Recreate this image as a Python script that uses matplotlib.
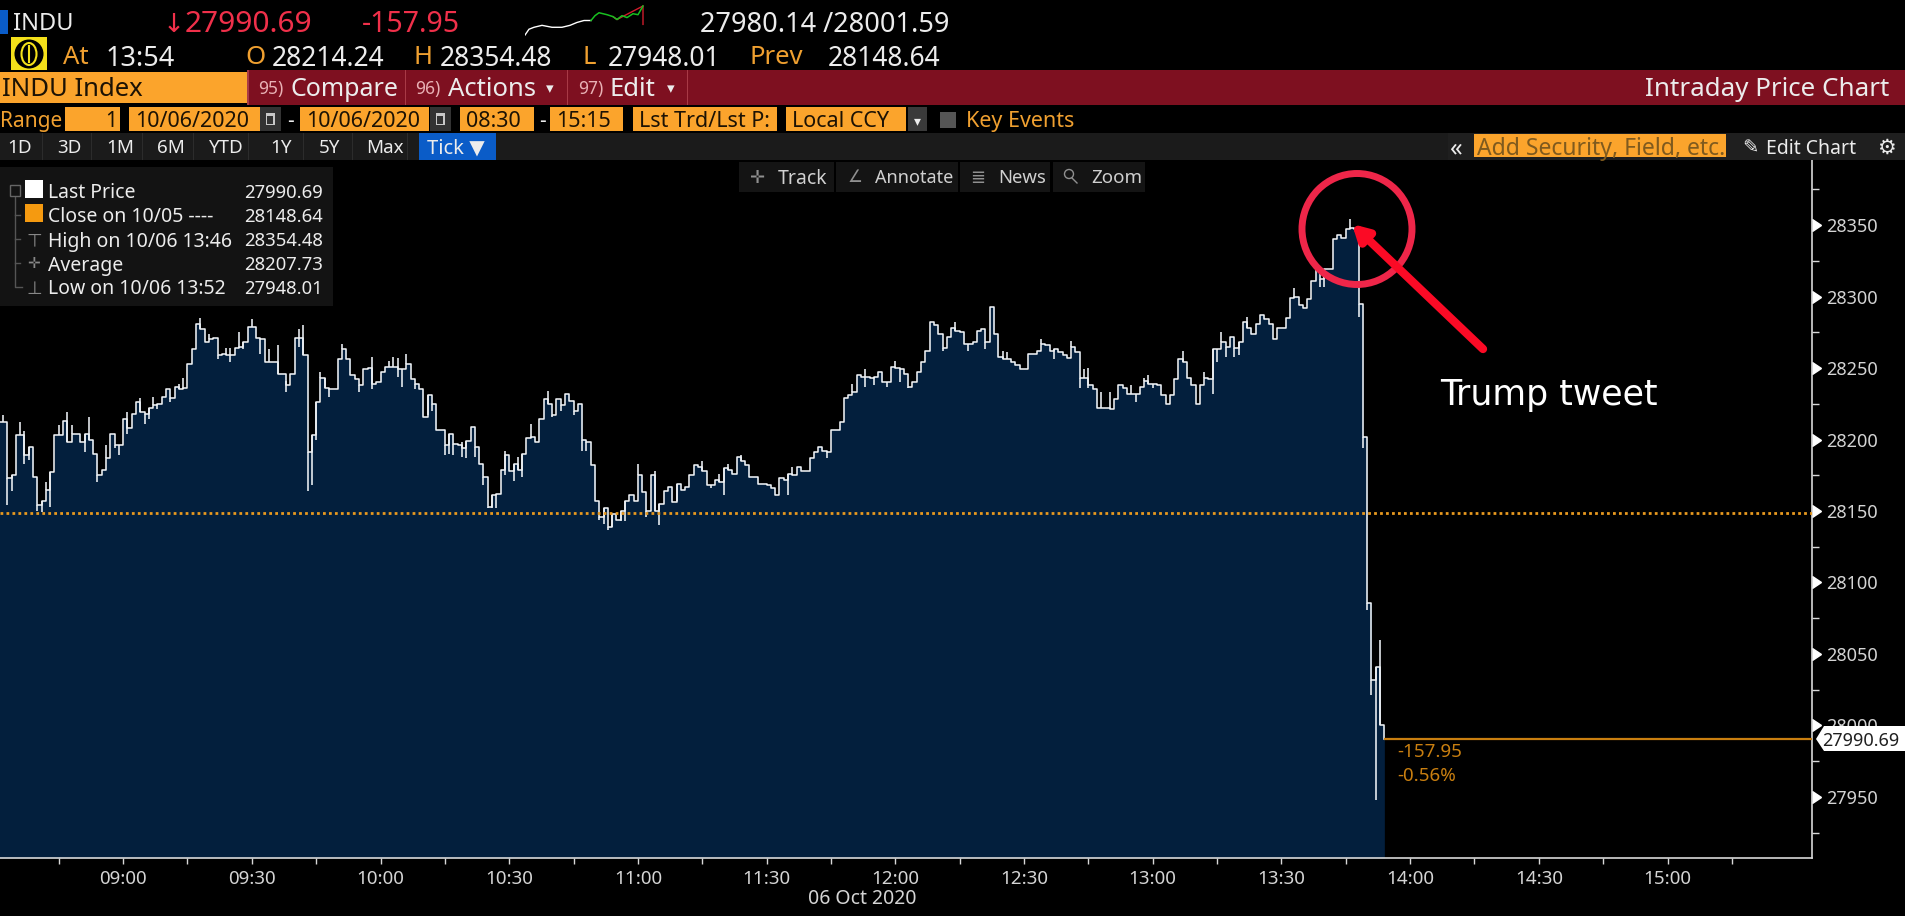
import numpy as np
import matplotlib
matplotlib.use("Agg")
import matplotlib.pyplot as plt
import matplotlib.markers as mmarkers
from matplotlib.patches import Rectangle, Ellipse, Polygon
from matplotlib.ticker import FixedLocator, FixedFormatter

plt.rcParams['font.family'] = ['Noto Sans', 'DejaVu Sans']

# one-minute bars, first one is 08:32
first_minute = 512
price_before_first = 28212
closes = [
    28212, 28173, 28175, 28203, 28203, 28189, 28195, 28174, 28154, 28157,
    28165, 28177, 28203, 28203, 28213, 28198, 28204, 28204, 28198, 28204,
    28200, 28190, 28175, 28179, 28187, 28204, 28196, 28196, 28214, 28208,
    28218, 28226, 28219, 28218, 28222, 28224, 28225, 28230, 28235, 28229,
    28237, 28235, 28236, 28253, 28263, 28281, 28277, 28268, 28270, 28271,
    28259, 28260, 28259, 28259, 28264, 28265, 28268, 28279, 28279, 28271,
    28270, 28254, 28254, 28254, 28246, 28246, 28238, 28246, 28271, 28271,
    28259, 28191, 28203, 28226, 28243, 28236, 28235, 28235, 28256, 28263,
    28256, 28245, 28242, 28238, 28249, 28250, 28239, 28240, 28247, 28251,
    28251, 28251, 28249, 28249, 28253, 28242, 28239, 28235, 28216, 28231,
    28225, 28207, 28207, 28196, 28204, 28197, 28196, 28194, 28199, 28209,
    28195, 28183, 28174, 28153, 28161, 28162, 28179, 28189, 28178, 28183,
    28179, 28190, 28201, 28202, 28198, 28214, 28228, 28225, 28217, 28228,
    28224, 28232, 28227, 28220, 28225, 28200, 28198, 28182, 28157, 28146,
    28152, 28139, 28148, 28144, 28150, 28157, 28161, 28157, 28175, 28163,
    28150, 28175, 28150, 28155, 28164, 28167, 28156, 28169, 28165, 28167,
    28175, 28182, 28181, 28178, 28168, 28168, 28172, 28170, 28180, 28179,
    28176, 28188, 28185, 28182, 28174, 28174, 28169, 28169, 28168, 28166,
    28161, 28173, 28172, 28176, 28175, 28181, 28178, 28178, 28187, 28191,
    28195, 28192, 28191, 28207, 28207, 28212, 28229, 28231, 28233, 28245,
    28244, 28244, 28243, 28244, 28247, 28240, 28240, 28251, 28250, 28249,
    28246, 28237, 28240, 28247, 28254, 28262, 28282, 28280, 28274, 28264,
    28272, 28278, 28276, 28275, 28267, 28267, 28268, 28276, 28277, 28268,
    28293, 28274, 28258, 28256, 28256, 28254, 28252, 28249, 28249, 28260,
    28260, 28262, 28267, 28266, 28262, 28263, 28261, 28259, 28257, 28265,
    28261, 28243, 28243, 28238, 28235, 28222, 28222, 28222, 28221, 28228,
    28238, 28236, 28232, 28232, 28232, 28237, 28241, 28239, 28239, 28238,
    28231, 28225, 28231, 28242, 28256, 28254, 28243, 28238, 28225, 28238,
    28243, 28242, 28263, 28263, 28268, 28265, 28272, 28264, 28268, 28282,
    28278, 28274, 28281, 28287, 28284, 28281, 28270, 28278, 28278, 28285,
    28299, 28300, 28294, 28292, 28298, 28311, 28319, 28312, 28319, 28319,
    28340, 28343, 28341, 28347, 28348, 28347, 28295, 28202, 28086, 28032,
    28041, 28000, 27990.69,
]

# bars whose high or low sticks out of the step line
high_bars = [0, 4, 5, 10, 13, 15, 16, 20, 24, 29, 32, 35, 41, 42, 46, 48, 52, 53, 55, 58,
             62, 64, 66, 69, 70, 74, 75, 79, 86, 90, 91, 92, 94, 107, 117, 120, 123, 127,
             148, 152, 163, 167, 169, 172, 184, 198, 201, 208, 222, 233, 234, 242, 249,
             252, 253, 256, 258, 263, 266, 267, 275, 280, 284, 290, 301, 314, 321]
high_vals = [28217, 28212, 28206, 28170, 28210, 28219, 28210, 28216, 28196, 28219, 28229,
             28230, 28239, 28243, 28285, 28274, 28264, 28264, 28275, 28284, 28263, 28266,
             28241, 28277, 28280, 28247, 28243, 28267, 28258, 28255, 28258, 28257, 28260,
             28198, 28192, 28188, 28211, 28234, 28183, 28178, 28185, 28176, 28183, 28189,
             28181, 28239, 28249, 28255, 28282, 28262, 28261, 28270, 28269, 28249, 28250,
             28233, 28233, 28238, 28243, 28245, 28262, 28247, 28275, 28286, 28306, 28354.48,
             28060]
low_bars = [1, 2, 5, 6, 8, 9, 11, 19, 22, 26, 27, 29, 33, 34, 36, 39, 50, 53, 56, 60, 66, 69,
            71, 72, 73, 76, 83, 86, 92, 93, 96, 99, 100, 103, 104, 105, 107, 108, 110, 112,
            113, 114, 115, 117, 119, 121, 128, 130, 133, 135, 136, 139, 140, 141, 142, 144,
            145, 150, 153, 157, 165, 168, 183, 192, 201, 203, 206, 209, 211, 219, 225, 229,
            245, 251, 253, 264, 268, 282, 283, 285, 287, 288, 307, 308, 316, 317, 318, 319,
            320]
low_vals = [28154, 28164, 28183, 28186, 28150, 28149, 28153, 28191, 28170, 28194, 28189,
            28204, 28211, 28214, 28221, 28226, 28256, 28254, 28263, 28260, 28233, 28265,
            28164, 28168, 28200, 28230, 28233, 28235, 28244, 28237, 28235, 28217, 28220,
            28189, 28190, 28189, 28188, 28187, 28188, 28168, 28152, 28152, 28152, 28175,
            28171, 28174, 28216, 28220, 28217, 28192, 28192, 28144, 28141, 28137, 28139,
            28143, 28143, 28146, 28140, 28157, 28166, 28161, 28161, 28187, 28237, 28238,
            28237, 28240, 28236, 28262, 28262, 28263, 28256, 28236, 28236, 28226, 28236,
            28232, 28254, 28258, 28258, 28259, 28307, 28307, 28286, 28194, 28081, 28021,
            27948.01]

prev_close = 28148.64
last_price = 27990.69

time_ticks = [540, 570, 600, 630, 660, 690, 720, 750, 780, 810, 840, 870, 900]
time_labels = ["09:00", "09:30", "10:00", "10:30", "11:00", "11:30", "12:00",
               "12:30", "13:00", "13:30", "14:00", "14:30", "15:00"]
time_minor = [525, 555, 585, 615, 645, 675, 705, 735, 765, 795, 825, 855, 885, 915]
price_ticks = [27950, 28000, 28050, 28100, 28150, 28200, 28250, 28300, 28350]
price_minor = [27925, 27975, 28025, 28075, 28125, 28175, 28225, 28275, 28325, 28375]

# little chart in the header, height in its own units
spark_white_x = [0, 4, 9, 17, 27, 37, 45, 52, 59, 66]
spark_white_y = [0, 6, 8, 10, 8, 8, 10, 13, 15, 15]
spark_green_x = [66, 70, 74, 82, 88, 92, 97, 102, 108, 113, 118]
spark_green_y = [15, 20, 23, 21, 19, 16, 20, 18, 22, 21, 30]
spark_red_x = [88, 92, 118, 118]
spark_red_y = [19, 16, 30, 11]

legend_rows = ["Last Price", "Close on 10/05 ----", "High on 10/06 13:46", "Average", "Low on 10/06 13:52"]
legend_vals = ["27990.69", "28148.64", "28354.48", "28207.73", "27948.01"]
range_tabs = ["1D", "3D", "1M", "6M", "YTD", "1Y", "5Y", "Max"]
range_tab_x = [20, 69, 120, 171, 226, 281, 330, 385]

ORANGE = "#fba42c"
LABEL_OR = "#f0a030"
WHITE = "#ececec"
RED = "#f0304a"
NAVY = "#031f3d"
W, H = 1906, 916

fig = plt.figure(figsize=(19.06, 9.16), dpi=100, facecolor="black")

# chart
ax = fig.add_axes([0, (H - 858) / H, 1812.5 / W, 698 / H], facecolor="black")
ax.set_xlim(511.3, 933.8)
ax.set_ylim(27907.3, 28395.5)

minutes = first_minute + np.arange(len(closes))
line_x = np.r_[first_minute - 1, minutes]
line_y = np.r_[price_before_first, closes]
ax.fill_between(line_x, line_y, 27907.3, step="post", color=NAVY, lw=0, zorder=1)
ax.plot(line_x, line_y, drawstyle="steps-post", color="#eef2f6", lw=1.15, zorder=3)
ax.vlines(first_minute + np.array(high_bars), np.array(closes)[high_bars], high_vals, color="#eef2f6", lw=1.15, zorder=3)
ax.vlines(first_minute + np.array(low_bars), np.array(closes)[low_bars], low_vals, color="#eef2f6", lw=1.15, zorder=3)

ax.axhline(prev_close, color="#e8991f", lw=2.0, ls=(0, (1, 1.15)), zorder=4)
ax.hlines(last_price, minutes[-1], 933.8, color="#c97f10", lw=1.6, zorder=4)
ax.text(minutes[-1] + 3, 27981.5, "-157.95", color="#c97f10", fontsize=13.5, va="center")
ax.text(minutes[-1] + 3, 27965, "-0.56%", color="#c97f10", fontsize=13.5, va="center")

for s in ["top", "left"]:
    ax.spines[s].set_visible(False)
for s in ["right", "bottom"]:
    ax.spines[s].set_color("#d8d8d8")
    ax.spines[s].set_linewidth(1.2)

ax.xaxis.set_major_locator(FixedLocator(time_ticks))
ax.xaxis.set_major_formatter(FixedFormatter(time_labels))
ax.xaxis.set_minor_locator(FixedLocator(time_minor))
ax.tick_params(axis="x", which="both", length=4.5, width=1, color="#d8d8d8", labelcolor="#d4d4d4", labelsize=13.5, pad=4)
ax.yaxis.tick_right()
ax.set_yticks(price_ticks)
ax.yaxis.set_minor_locator(FixedLocator(price_minor))
ax.tick_params(axis="y", which="major", length=0, labelcolor="#d4d4d4", labelsize=13, pad=10)
ax.tick_params(axis="y", which="minor", length=5, width=1, color="#d8d8d8")
ax.plot([1] * len(price_ticks), price_ticks, transform=ax.get_yaxis_transform(), ls="",
        marker=mmarkers.CARETRIGHTBASE, ms=9, color="white", clip_on=False, zorder=5)

# header, legend and drawn marks, in pixel coordinates
ov = fig.add_axes([0, 0, 1, 1], zorder=10)
ov.set_xlim(0, W)
ov.set_ylim(H, 0)
ov.axis("off")


def box(x0, y0, x1, y1, color, z=1):
    ov.add_patch(Rectangle((x0, y0), x1 - x0, y1 - y0, facecolor=color, edgecolor="none", zorder=z))


def txt(x, y, s, color=WHITE, size=13, ha="left", **kw):
    ov.text(x, y, s, color=color, fontsize=size, ha=ha, va="center_baseline", zorder=5, **kw)


# row 1
box(0, 10, 8, 34, "#0a5cc8")
txt(13, 21, "INDU", size=17)
txt(163, 21, "↓", RED, 19)
txt(185, 21, "27990.69", RED, 21.5)
txt(362, 21, "-157.95", RED, 20.5)
txt(700, 21, "27980.14 /28001.59", size=19.5)

# row 2
box(11, 37, 47, 70, "#f4e01a")
ov.add_patch(Ellipse((29, 54), 29, 29, facecolor="black", edgecolor="none", zorder=2))
ov.add_patch(Ellipse((29, 54), 15, 22, facecolor="none", edgecolor="#f4e01a", lw=1.5, zorder=3))
ov.plot([29, 29], [46, 62], color="#f4e01a", lw=1.5, zorder=3)
txt(63, 55, "At", LABEL_OR, 18.5)
txt(106, 55, "13:54", size=19.5)
txt(245, 55, "O", LABEL_OR, 18.5)
txt(272, 55, "28214.24", size=19)
txt(414, 55, "H", LABEL_OR, 18.5)
txt(440, 55, "28354.48", size=19)
txt(583, 55, "L", LABEL_OR, 18.5)
txt(608, 55, "27948.01", size=19)
txt(750, 55, "Prev", LABEL_OR, 18.5)
txt(828, 55, "28148.64", size=19)

# row 3
box(248, 70, W, 105, "#7e1020")
box(0, 72, 247, 103, ORANGE)
txt(2, 87, "INDU Index", "#1c1204", 18.5)
for sx in [405, 567, 687]:
    box(sx, 70, sx + 1.5, 105, "#a83a46", 2)
box(247, 70, 249, 105, "#a83a46", 2)
txt(258, 87, "95)", "#e8b0b4", 12.5)
txt(291, 87, "Compare", size=18)
txt(415, 87, "96)", "#e8b0b4", 12.5)
txt(448, 87, "Actions", size=18.5)
txt(546, 88, "▾", size=11)
txt(578, 87, "97)", "#e8b0b4", 12.5)
txt(610, 87, "Edit", size=18.5)
txt(667, 88, "▾", size=11)
txt(1889, 87, "Intraday Price Chart", size=18.7, ha="right")

# row 4
txt(0, 119, "Range", LABEL_OR, 15)
for x0, x1, label in [(65, 120, ""), (129, 260, "10/06/2020"), (300, 429, "10/06/2020"), (460, 534, "08:30"),
                      (550, 623, "15:15"), (633, 777, "Lst Trd/Lst P:"), (786, 906, "Local CCY")]:
    box(x0, 107, x1, 131, ORANGE)
    if label:
        txt(x0 + 6, 119, label, "#1c1204", 15.5)
txt(117, 119, "1", "#1c1204", 15, ha="right")
for x0 in [260, 430]:
    box(x0, 107, x0 + 21, 131, "#333333")
    box(x0 + 6, 113, x0 + 15, 125, "#c8c8c8", 2)
    box(x0 + 7.5, 116, x0 + 13.5, 124, "#333333", 3)
txt(291, 119, "-", size=15, ha="center")
txt(543, 119, "-", size=15, ha="center")
box(908, 107, 927, 131, "#3a3a3a")
txt(917, 120, "▾", size=10, ha="center")
box(940, 112, 956, 128, "#555555")
txt(966, 119, "Key Events", LABEL_OR, 15.5)

# row 5
box(0, 133, W, 160, "#1b1b1b")
for tx, label in zip(range_tab_x, range_tabs):
    txt(tx, 146, label, size=13.5, ha="center")
    box(tx + 22, 133, tx + 23, 160, "#2c2c2c", 2)
box(419, 133, 496, 160, "#0a5cc8", 2)
txt(427, 146, "Tick ▼", size=14.5)
box(1448, 133, W, 160, "#1f1f1f", 2)
txt(1456, 146, "«", size=18, ha="center")
box(1474, 134, 1726, 157, ORANGE, 3)
txt(1477, 146, "Add Security, Field, etc.", "#7f5a1e", 16.5)
txt(1750, 146, "✎", size=14, ha="center")
txt(1766, 146, "Edit Chart", size=14)
txt(1886, 146, "⚙", size=15, ha="center")

# floating buttons
for x0, x1 in [(739, 834), (836, 958), (960, 1050), (1053, 1145)]:
    box(x0, 162, x1, 192, "#141414")
txt(757, 176, "✛", "#909090", 13, ha="center")
txt(778, 176, "Track", "#d0d0d0", 14)
txt(855, 176, "∠", "#909090", 12, ha="center")
txt(875, 176, "Annotate", "#d0d0d0", 13)
txt(978, 176, "≣", "#909090", 13, ha="center")
txt(998, 176, "News", "#d0d0d0", 13.3)
ov.add_patch(Ellipse((1069, 174), 9, 9, facecolor="none", edgecolor="#909090", lw=1, zorder=3))
ov.plot([1072, 1077], [178, 183], color="#909090", lw=1, zorder=3)
txt(1091, 176, "Zoom", "#d0d0d0", 13.5)

# legend box
box(0, 167, 333, 306, "#131313")
ov.plot([15, 15, 22], [190, 287, 287], color="#555555", lw=1, zorder=2)
for ly in [215, 239, 263]:
    ov.plot([15, 20], [ly, ly], color="#555555", lw=1, zorder=2)
box(10, 185, 20, 196, "#131313", 2)
ov.add_patch(Rectangle((10, 185), 10, 11, facecolor="none", edgecolor="#666666", lw=1, zorder=3))
box(25, 180, 43, 198, "white", 3)
box(25, 204, 43, 222, "#f59a10", 3)
txt(34, 239, "⊤", "#888888", 13, ha="center")
txt(34, 263, "✛", "#888888", 11, ha="center")
txt(34, 287, "⊥", "#888888", 13, ha="center")
for i in range(5):
    ly = 191 + 24 * i
    txt(48, ly, legend_rows[i], size=14)
    txt(323, ly, legend_vals[i], size=13.3, ha="right")

txt(862, 897, "06 Oct 2020", "#d4d4d4", 14, ha="center")

# price flag on the axis
ov.add_patch(Polygon([(1816, 739), (1824, 726), (1906, 726), (1906, 751), (1824, 751)],
                     facecolor="white", edgecolor="none", zorder=4))
txt(1822, 739, "27990.69", "#202020", 13)

# the red marks on top of the screenshot
ov.add_patch(Ellipse((1357, 229), 110, 111, facecolor="none", edgecolor="#ee2649", lw=5, zorder=6))
ov.annotate("", xy=(1352, 224), xytext=(1483, 349),
            arrowprops=dict(arrowstyle="-|>,head_length=0.9,head_width=0.5", color="#fb0a25", lw=6, shrinkA=0, shrinkB=0), zorder=7)
txt(1440, 392, "Trump tweet", "white", 25, family="DejaVu Sans")

# header sparkline
sp = fig.add_axes([525 / W, (H - 36) / H, 120 / W, 31 / H], zorder=11)
sp.axis("off")
sp.set_xlim(0, 120)
sp.set_ylim(-1, 31)
sp.plot(spark_white_x, spark_white_y, color="white", lw=1)
sp.plot(spark_red_x, spark_red_y, color="#d01c2c", lw=1)
sp.plot(spark_green_x, spark_green_y, color="#18c020", lw=1.1)

fig.savefig("out.png", dpi=100, facecolor="black")
